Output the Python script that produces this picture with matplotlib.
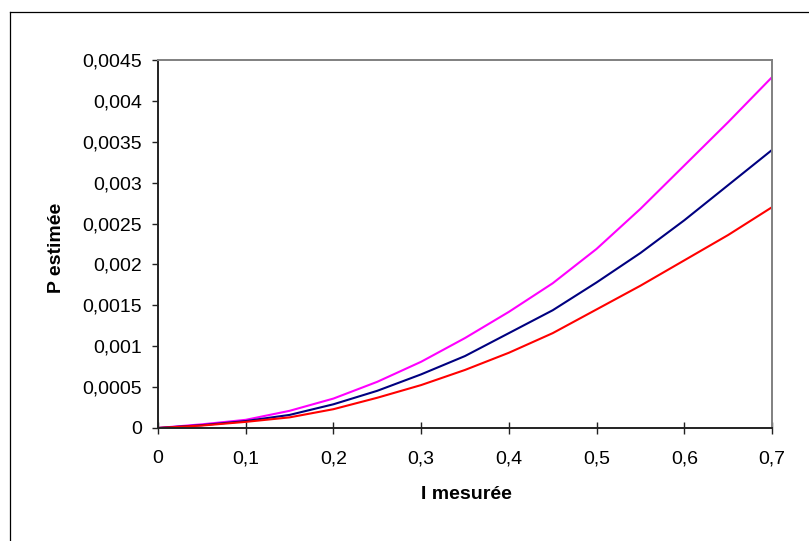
import numpy as np
import matplotlib
matplotlib.use("Agg")
import matplotlib.pyplot as plt
from matplotlib.ticker import MultipleLocator, FuncFormatter
from matplotlib.lines import Line2D

i_mes = [0, 0.05, 0.1, 0.15, 0.2, 0.25, 0.3, 0.35, 0.4, 0.45, 0.5, 0.55, 0.6, 0.65, 0.7]
p_magenta = [0, 0.000045, 0.000100, 0.00021, 0.00036, 0.000565, 0.00081, 0.00110,
             0.00142, 0.00177, 0.00219, 0.00268, 0.00321, 0.00374, 0.00429]
p_navy = [0, 0.000035, 0.000085, 0.00016, 0.00029, 0.000455, 0.000656, 0.00088,
          0.00116, 0.00144, 0.00178, 0.00214, 0.00254, 0.00297, 0.00340]
p_red = [0, 0.000030, 0.000075, 0.00013, 0.00023, 0.00037, 0.000525, 0.00071,
         0.00092, 0.00116, 0.00145, 0.00174, 0.00205, 0.00236, 0.00270]

plt.rcParams['font.family'] = ['Liberation Sans', 'DejaVu Sans']

fig = plt.figure(figsize=(8.09, 5.41), dpi=100)
ax = fig.add_axes([158 / 809, 1 - 428 / 541, 614 / 809, 368 / 541])

ax.plot(i_mes, p_magenta, color='#FF00FF', lw=1.5)
ax.plot(i_mes, p_navy, color='#000080', lw=1.5)
ax.plot(i_mes, p_red, color='#FF0000', lw=1.5)

ax.set_xlim(0, 0.7)
ax.set_ylim(0, 0.0045)
ax.xaxis.set_major_locator(MultipleLocator(0.1))
ax.yaxis.set_major_locator(MultipleLocator(0.0005))

def comma(v, pos):
    return f"{round(v, 6):g}".replace('.', ',')

ax.xaxis.set_major_formatter(FuncFormatter(comma))
ax.yaxis.set_major_formatter(FuncFormatter(comma))

ax.tick_params(axis='y', direction='out', length=4.3, width=1, pad=7, labelsize=14, color='#222222')
ax.tick_params(axis='x', direction='inout', length=8, width=1, pad=12, labelsize=14, color='#222222')

for s in ['left', 'bottom']:
    ax.spines[s].set_color('#222222')
    ax.spines[s].set_linewidth(1.4)
for s in ['top', 'right']:
    ax.spines[s].set_color('#808080')
    ax.spines[s].set_linewidth(1.4)

ax.set_ylabel('P estimée', fontsize=14, fontweight='bold', va='center')
ax.yaxis.set_label_coords(-0.166, 0.49)
ax.set_xlabel('I mesurée', fontsize=14, fontweight='bold', va='center')
ax.xaxis.set_label_coords(0.503, -0.182)

# chart frame (cut off at right and bottom in the reference)
fig.add_artist(Line2D([9.5 / 809, 9.5 / 809], [0, 1 - 12 / 541], transform=fig.transFigure, color='black', lw=0.9))
fig.add_artist(Line2D([9.5 / 809, 1], [1 - 12 / 541, 1 - 12 / 541], transform=fig.transFigure, color='black', lw=0.9))

fig.savefig('out.png', dpi=100)
